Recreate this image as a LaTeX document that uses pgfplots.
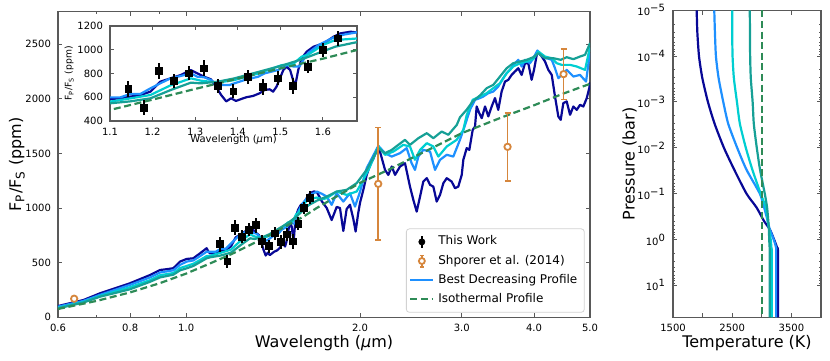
\documentclass[border=0pt]{standalone}
\usepackage{fontspec}
\setmainfont{DejaVu Sans}
\usepackage{pgfplots}
\usepackage{pgfplotstable}
\pgfplotsset{compat=1.18}

\definecolor{cNavy}{RGB}{8,8,150}
\definecolor{cBlue}{RGB}{30,144,255}
\definecolor{cCyan}{RGB}{0,206,209}
\definecolor{cTeal}{RGB}{22,160,150}
\definecolor{cIso}{RGB}{46,139,87}
\definecolor{cShp}{RGB}{214,134,60}

% spectra: wavelength (um), Fp/Fs (ppm)
\pgfplotstableread{
x y
0.600 103
0.664 158
0.709 219
0.799 311
0.866 387
0.901 433
0.925 440
0.950 449
0.976 510
1.002 534
1.029 540
1.057 586
1.085 632
1.093 600
1.100 585
1.124 591
1.147 605
1.171 619
1.195 647
1.218 731
1.242 759
1.266 787
1.290 829
1.305 801
1.321 773
1.337 751
1.349 689
1.361 619
1.373 565
1.384 591
1.396 569
1.404 580
1.420 600
1.436 611
1.451 633
1.463 661
1.475 667
1.483 647
1.491 689
1.499 759
1.507 829
1.515 857
1.523 829
1.531 731
1.536 717
1.542 829
1.550 928
1.562 984
1.578 1026
1.602 1054
1.625 1110
1.641 1138
1.665 1152
1.685 1143
1.718 1060
1.751 1000
1.786 890
1.822 1010
1.846 1000
1.871 790
1.896 990
1.921 1030
1.947 900
1.965 785
1.985 950
2.000 1050
2.026 1166
2.053 1300
2.081 1395
2.108 1450
2.151 1563
2.165 1517
2.209 1349
2.238 1303
2.269 1380
2.299 1303
2.345 1380
2.392 1410
2.440 1196
2.473 1074
2.506 967
2.540 1105
2.573 1242
2.609 1273
2.643 1212
2.678 1196
2.714 1059
2.750 1120
2.787 1227
2.825 1273
2.881 1242
2.920 1181
2.958 1196
2.999 1303
3.018 1441
3.059 1548
3.091 1532
3.133 1715
3.162 1746
3.183 1929
3.216 1868
3.248 1822
3.291 1929
3.334 1838
3.379 1929
3.424 2006
3.469 1898
3.516 2066
3.564 2157
3.611 2173
3.659 2218
3.707 2249
3.757 2279
3.808 2218
3.859 2325
3.910 2325
3.963 2173
4.000 2264
4.054 2432
4.126 2386
4.180 2340
4.235 2264
4.293 2218
4.349 2020
4.407 1838
4.449 1807
4.496 1960
4.557 1975
4.618 1853
4.679 1929
4.742 1898
4.805 1944
4.869 1929
4.936 2006
4.987 2100
5.000 2150
}\navyspec

\pgfplotstableread{
x y
0.600 97
0.664 150
0.709 205
0.799 296
0.866 365
0.901 410
0.950 430
0.976 480
1.002 510
1.029 520
1.057 560
1.085 600
1.100 599
1.124 599
1.147 627
1.171 627
1.195 675
1.218 717
1.242 759
1.266 779
1.290 801
1.305 773
1.321 768
1.337 745
1.353 703
1.380 703
1.392 717
1.416 745
1.448 773
1.463 801
1.495 830
1.515 870
1.532 858
1.545 860
1.555 920
1.566 975
1.590 1040
1.629 1110
1.653 1130
1.685 1150
1.718 1130
1.751 1105
1.786 1029
1.822 1135
1.871 1059
1.921 1135
1.960 1013
2.000 1150
2.053 1364
2.108 1480
2.151 1569
2.209 1502
2.269 1471
2.345 1502
2.408 1548
2.456 1410
2.489 1349
2.523 1471
2.573 1532
2.643 1517
2.696 1349
2.750 1441
2.825 1487
2.900 1471
2.978 1624
3.039 1760
3.100 1900
3.162 1990
3.225 2006
3.268 2020
3.334 2051
3.401 2066
3.469 2112
3.539 2188
3.587 2234
3.635 2264
3.707 2325
3.757 2356
3.808 2295
3.859 2356
3.937 2325
3.989 2371
4.054 2441
4.126 2392
4.209 2371
4.293 2356
4.349 2279
4.407 2188
4.467 2218
4.557 2264
4.679 2203
4.805 2218
4.922 2157
4.987 2386
5.000 2420
}\bluespec

\pgfplotstableread{
x y
0.600 88
0.664 140
0.709 195
0.799 275
0.866 340
0.901 385
0.950 405
0.976 450
1.002 470
1.029 490
1.057 525
1.085 560
1.100 563
1.147 590
1.195 619
1.242 700
1.290 759
1.313 740
1.353 723
1.392 745
1.448 800
1.471 830
1.503 870
1.530 880
1.550 942
1.566 960
1.600 1040
1.629 1082
1.685 1096
1.718 1080
1.751 1090
1.822 1151
1.896 1120
1.973 1151
2.026 1258
2.081 1380
2.151 1563
2.209 1487
2.284 1517
2.376 1578
2.440 1563
2.489 1441
2.540 1532
2.609 1593
2.678 1563
2.732 1471
2.825 1563
2.939 1624
3.018 1715
3.059 1850
3.133 1990
3.225 2020
3.313 2051
3.401 2097
3.493 2142
3.587 2234
3.682 2295
3.783 2325
3.884 2340
3.989 2362
4.070 2432
4.180 2386
4.293 2371
4.379 2325
4.467 2310
4.618 2310
4.742 2295
4.902 2264
4.987 2447
5.000 2470
}\cyanspec

\pgfplotstableread{
x y
0.600 82
0.664 135
0.709 188
0.799 256
0.866 325
0.901 365
0.950 390
0.976 430
1.002 448
1.029 470
1.057 505
1.085 540
1.100 549
1.147 565
1.195 591
1.242 660
1.290 723
1.313 717
1.353 731
1.392 759
1.471 835
1.503 866
1.550 919
1.629 1026
1.685 1068
1.751 1105
1.822 1151
1.896 1166
1.973 1227
2.053 1349
2.151 1548
2.209 1502
2.269 1532
2.329 1578
2.392 1624
2.440 1578
2.523 1639
2.609 1685
2.678 1639
2.769 1700
2.843 1670
2.940 1760
2.978 1830
3.059 1900
3.133 1975
3.225 2030
3.313 2097
3.401 2127
3.493 2203
3.587 2279
3.682 2325
3.783 2340
3.884 2356
3.989 2380
4.070 2417
4.180 2371
4.320 2371
4.449 2356
4.557 2380
4.679 2362
4.805 2386
4.902 2402
4.987 2493
5.000 2510
}\tealspec

\pgfplotstableread{
x y
0.6 76
0.7 150
0.8 228
0.9 312
1.0 400
1.1 493
1.2 580
1.3 670
1.4 757
1.5 843
1.6 925
1.68 998
1.8 1090
2.0 1230
2.25 1355
2.5 1477
2.75 1585
3.0 1685
3.5 1825
4.0 1940
4.5 2048
5.0 2136
}\isospec

% data
\pgfplotstableread{
x y e
1.143 669 68
1.179 512 62
1.215 821 65
1.250 737 60
1.286 801 58
1.321 843 68
1.353 695 62
1.390 650 58
1.424 768 58
1.459 689 68
1.495 759 58
1.530 695 68
1.564 858 58
1.600 998 55
1.636 1096 62
}\thiswork

\pgfplotstableread{
x y e
2.15 1221 515
3.6 1560 310
4.5 2225 232
}\shporer

% T-P profiles: temperature (K), pressure (bar)
\pgfplotstableread{
T P
1900 1e-5
1911 3e-5
1939 1e-4
1995 3e-4
2090 1e-3
2203 3e-3
2360 1e-2
2534 3e-2
2741 0.1
2910 0.2
3039 0.4
3134 0.6
3207 1
3257 1.5
3274 2
3276 50.1
}\navytp

\pgfplotstableread{
T P
2197 1e-5
2208 3e-5
2225 1e-4
2270 3e-4
2349 1e-3
2433 3e-3
2584 1e-2
2741 3e-2
2966 0.1
3039 0.2
3100 0.4
3134 0.6
3201 1
3240 1.5
3242 2
3242 50.1
}\bluetp

\pgfplotstableread{
T P
2500 1e-5
2500 3e-5
2506 1e-4
2528 3e-4
2580 1e-3
2630 3e-3
2730 1e-2
2840 3e-2
2980 0.1
3067 0.2
3100 0.4
3123 0.6
3150 1
3162 1.5
3168 2
3170 50.1
}\cyantp

\pgfplotstableread{
T P
2797 1e-5
2800 3e-5
2803 1e-4
2814 3e-4
2845 1e-3
2865 3e-3
2915 1e-2
2970 3e-2
3050 0.1
3089 0.2
3110 0.4
3120 0.6
3125 1
3132 1.5
3134 2
3134 50.1
}\tealtp

\pgfplotsset{
  base/.style={
    scale only axis,
    axis line style={gray!70!black, line width=0.6pt},
    tick style={gray!70!black, line width=0.5pt},
    major tick length=2.2pt, minor tick length=1.2pt,
    tick label style={font=\fontsize{5}{6}\selectfont, black},
    /pgf/number format/assume math mode=true,
    /pgf/number format/1000 sep={},
    label style={font=\fontsize{8}{9}\selectfont},
  },
  spec/.style={line width=1.1pt, line join=round},
  iso/.style={cIso, line width=1.1pt, dash pattern=on 3.5pt off 1.8pt},
  lineleg/.style={legend image code/.code={\draw[##1] (0cm,0cm) -- (0.4cm,0cm);}},
  twleg/.style={legend image code/.code={
    \draw[black, line width=1pt] (0.2cm,-0.1cm) -- (0.2cm,0.1cm);
    \fill[black] (0.2cm,0cm) +(-1.5pt,-1.5pt) rectangle +(1.5pt,1.5pt);}},
  shleg/.style={legend image code/.code={
    \draw[cShp, line width=0.8pt] (0.2cm,-0.1cm) -- (0.2cm,0.1cm);
    \draw[cShp, line width=0.8pt] (0.17cm,0.1cm) -- (0.23cm,0.1cm);
    \draw[cShp, line width=0.8pt] (0.17cm,-0.1cm) -- (0.23cm,-0.1cm);
    \draw[cShp, fill=white, line width=0.9pt] (0.2cm,0cm) circle (1.5pt);}},
}

\begin{document}
\begin{tikzpicture}
\path[use as bounding box] (0,0) rectangle (415pt,180pt);

% main spectrum
\begin{axis}[base,
  at={(29pt,21.35pt)}, anchor=south west, width=266pt, height=153pt,
  xmode=log, xmin=0.6, xmax=5, ymin=0, ymax=2800,
  xtick={0.6,0.8,1,2,3,4,5}, xticklabels={0.6,0.8,1.0,2.0,3.0,4.0,5.0},
  minor xtick={0.7,0.9},
  ytick={0,500,1000,1500,2000,2500},
  xlabel={Wavelength (\textit{μ}m)},
  ylabel={F\textsubscript{P}/F\textsubscript{S} (ppm)},
  xlabel shift=-5pt, ylabel shift=-6.5pt,
  legend style={at={(0.99,0.015)}, anchor=south east, draw=gray!35,
    rounded corners=1.5pt, font=\fontsize{6}{7}\selectfont,
    inner sep=1.5pt, row sep=-0.5pt},
  legend cell align=left,
]
\addlegendimage{twleg}
\addlegendentry{This Work}
\addlegendimage{shleg}
\addlegendentry{Shporer et al. (2014)}

\addplot[spec, cNavy, forget plot] table[x=x,y=y] {\navyspec};
\addplot[spec, cBlue, lineleg] table[x=x,y=y] {\bluespec};
\addlegendentry{Best Decreasing Profile}
\addplot[spec, cCyan, forget plot] table[x=x,y=y] {\cyanspec};
\addplot[spec, cTeal, forget plot] table[x=x,y=y] {\tealspec};
\addplot[iso, lineleg] table[x=x,y=y] {\isospec};
\addlegendentry{Isothermal Profile}

\addplot[forget plot, only marks, mark=square*, mark size=1.7pt, black,
  error bars/.cd, y dir=both, y explicit, error mark=none,
  error bar style={line width=1pt, black}]
  table[x=x,y=y,y error=e] {\thiswork};
\addplot[forget plot, only marks, mark=*, mark size=1.6pt, cShp,
  mark options={fill=white, line width=0.9pt},
  error bars/.cd, y dir=both, y explicit, error mark=|,
  error bar style={line width=0.9pt, draw=cShp},
  error mark options={draw=cShp, mark size=1.5pt, line width=0.9pt}]
  table[x=x,y=y,y error=e] {\shporer};
\addplot[forget plot, only marks, mark=*, mark size=1.6pt, cShp,
  mark options={fill=white, line width=0.9pt}]
  coordinates {(0.64,170)};
\end{axis}

% inset
\begin{axis}[base,
  at={(55pt,119.5pt)}, anchor=south west, width=123.5pt, height=47.5pt,
  axis background/.style={fill=white},
  xmin=1.1, xmax=1.68, ymin=400, ymax=1200,
  xtick={1.1,1.2,1.3,1.4,1.5,1.6},
  ytick={400,600,800,1000,1200},
  xlabel={Wavelength (\textit{μ}m)},
  ylabel={F\textsubscript{P}/F\textsubscript{S} (ppm)},
  xlabel style={font=\fontsize{5}{6}\selectfont},
  ylabel style={font=\fontsize{4.6}{5.5}\selectfont},
  xlabel shift=-7pt, ylabel shift=-5pt,
]
\addplot[spec, cNavy] table[x=x,y=y] {\navyspec};
\addplot[spec, cBlue] table[x=x,y=y] {\bluespec};
\addplot[spec, cCyan] table[x=x,y=y] {\cyanspec};
\addplot[spec, cTeal] table[x=x,y=y] {\tealspec};
\addplot[iso] table[x=x,y=y] {\isospec};
\addplot[only marks, mark=square*, mark size=1.7pt, black,
  error bars/.cd, y dir=both, y explicit, error mark=none,
  error bar style={line width=1pt, black}]
  table[x=x,y=y,y error=e] {\thiswork};
\end{axis}

% temperature-pressure profiles
\begin{axis}[base,
  at={(336.5pt,21.35pt)}, anchor=south west, width=74pt, height=153.5pt,
  xmin=1500, xmax=4000, ymode=log, ymin=1e-5, ymax=50.1, y dir=reverse,
  xtick={1500,2000,2500,3000,3500,4000},
  xticklabels={1500,,2500,,3500,},
  ytick={1e-5,1e-4,1e-3,1e-2,1e-1,1,10},
  yticklabels={10\textsuperscript{−5},10\textsuperscript{−4},10\textsuperscript{−3},10\textsuperscript{−2},10\textsuperscript{−1},10\textsuperscript{0},10\textsuperscript{1}},
  xlabel={Temperature (K)},
  ylabel={Pressure (bar)},
  xlabel shift=-5pt, ylabel shift=-6.5pt,
]
\addplot[spec, cNavy, smooth, tension=0.4] table[x=T,y=P] {\navytp};
\addplot[spec, cBlue, smooth, tension=0.4] table[x=T,y=P] {\bluetp};
\addplot[spec, cCyan, smooth, tension=0.4] table[x=T,y=P] {\cyantp};
\addplot[spec, cTeal, smooth, tension=0.4] table[x=T,y=P] {\tealtp};
\addplot[iso] coordinates {(3000,1e-5) (3000,50.1)};
\end{axis}
\end{tikzpicture}
\end{document}
